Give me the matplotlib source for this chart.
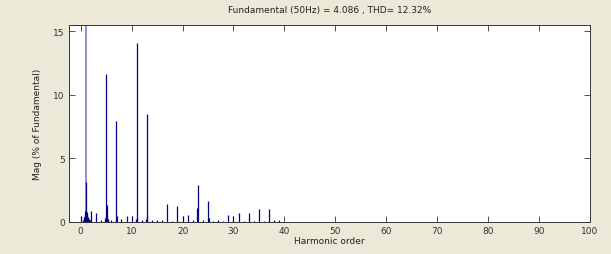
import matplotlib
matplotlib.use('Agg')
import matplotlib.pyplot as plt
import numpy as np

# harmonic order (with interharmonic bins) and magnitude in % of fundamental
orders = [0, 0.5, 0.6, 0.7, 0.8, 0.9, 1.0, 1.1, 1.2, 1.3, 1.4, 1.5, 1.6, 1.7, 1.8,
          2, 3, 4, 4.7, 4.8, 4.9, 5, 5.1, 5.2, 5.3, 5.4, 6, 6.9, 7, 7.1,
          8, 9, 10, 10.9, 11, 11.1, 12, 12.9, 13, 13.1, 14, 15, 16, 17, 18,
          19, 20, 21, 22, 22.9, 23, 24, 25, 25.1, 26, 27, 28, 29, 30, 31,
          32, 33, 34, 35, 36, 37, 38, 39]
mags = [0.4, 0.15, 0.25, 0.35, 0.5, 0.8, 100.0, 3.1, 0.75, 0.5, 0.35, 0.25, 0.2, 0.15, 0.1,
        0.8, 0.7, 0.15, 0.15, 0.25, 0.4, 11.6, 1.3, 0.35, 0.2, 0.1, 0.15, 0.2, 7.9, 0.45,
        0.2, 0.4, 0.4, 0.2, 14.1, 0.3, 0.1, 0.2, 8.5, 0.4, 0.1, 0.1, 0.1, 1.35, 0.05,
        1.2, 0.45, 0.5, 0.1, 1.1, 2.85, 0.1, 1.65, 0.3, 0.05, 0.15, 0.05, 0.5, 0.45, 0.65,
        0.05, 0.65, 0.05, 0.95, 0.05, 1.0, 0.1, 0.1]

title_txt = 'Fundamental (50Hz) = 4.086 , THD= 12.32%'

bg = '#ECE9D8'
fig = plt.figure(figsize=(6.11, 2.55), dpi=100, facecolor=bg)
ax = fig.add_axes([69/611, 1-222.5/255, (590-69)/611, (222.5-26)/255])
ax.set_facecolor('white')

o = np.array(orders)
m = np.array(mags)
fund = m == m.max()
# fundamental bar is clipped and rendered lighter in the original
ax.vlines(o[fund], 0, m[fund], colors='#8C8CD0', linewidth=1.4)
ax.vlines(o[~fund], 0, m[~fund], colors='#00008B', linewidth=0.9)

ax.set_xlim(-2.3, 100)
ax.set_ylim(0, 15.5)
ax.set_xticks(np.arange(0, 101, 10))
ax.set_yticks([0, 5, 10, 15])
ax.tick_params(direction='in', top=True, right=True, length=4, width=0.6,
               labelsize=6.5, colors='#333333', pad=3)
for s in ax.spines.values():
    s.set_linewidth(0.7)
    s.set_color('#333333')

ax.set_title(title_txt, fontsize=6.5, color='#222222', pad=9)
ax.set_xlabel('Harmonic order', fontsize=6.5, color='#222222', labelpad=1)
ax.set_ylabel('Mag (% of Fundamental)', fontsize=6.5, color='#222222', labelpad=8)

fig.savefig('out.png', dpi=100, facecolor=bg)
